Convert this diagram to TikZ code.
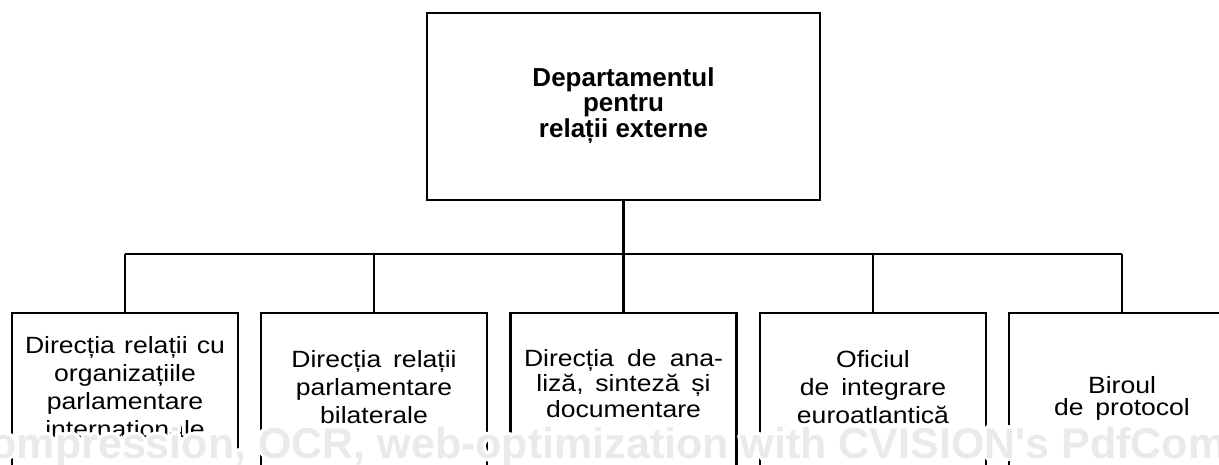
\documentclass[tikz,border=0pt]{standalone}
\usepackage{fontspec}
\setmainfont{Liberation Sans}
\newfontfamily\boxfont[FakeStretch=1.13,WordSpace=1.6]{Liberation Sans}
\newfontfamily\wmfont{Liberation Sans}
\definecolor{wmgray}{HTML}{EAEAEA}
\begin{document}
\begin{tikzpicture}[x=1pt,y=-1pt,
  unitbox/.style={draw, line width=2.2pt, minimum width=226pt, minimum height=190pt, anchor=north, inner sep=0pt},
  headbox/.style={draw, line width=2.2pt, minimum width=393pt, minimum height=187pt, inner sep=0pt},
  lbl/.style={anchor=north, inner sep=0pt, align=center, font=\boxfont\fontsize{23.5}{28}\selectfont},
  headlbl/.style={anchor=north, inner sep=0pt, align=center, font=\bfseries\fontsize{26}{25.5}\selectfont},
  link/.style={line width=2.2pt},
  wm/.style={anchor=base west, inner sep=0pt, font=\wmfont\bfseries\fontsize{43}{43}\selectfont}]
\useasboundingbox (0,0) rectangle (1219,464);
\clip (0,0) rectangle (1219,464);
\fill[white] (0,0) rectangle (1219,464);

% head
\node[headbox] (top) at (623.5,106.5) {};
\node[headlbl] (toptext) at (623.5,67.4) {Departamentul\\pentru\\relații externe};

% units
\node[unitbox] (b1) at (125,312) {};
\node[unitbox] (b2) at (374,312) {};
\node[unitbox] (b3) at (623.5,312) {};
\node[unitbox] (b4) at (873,312) {};
\node[unitbox] (b5) at (1122,312) {};

\node[lbl] (t1) at (125,336) {\makebox[200pt][s]{Direcția relații cu}\\organizațiile\\parlamentare\\internaționale};
\node[lbl] (t2) at (374,350) {Direcția relații\\parlamentare\\bilaterale};
\node[lbl, font=\boxfont\fontsize{23.5}{25.5}\selectfont] (t3) at (623.5,349) {\makebox[199pt][s]{Direcția de ana-}\\liză, sinteză și\\documentare};
\node[lbl] (t4) at (873,350) {Oficiul\\de integrare\\euroatlantică};
\node[lbl, font=\boxfont\fontsize{23.5}{22}\selectfont] (t5) at (1122,376) {Biroul\\de protocol};

% connectors
\coordinate (bus) at (623.5,254);
\draw[link] (top.south) -- (b3.north);
\draw[link] (b1.north |- bus) -- (b5.north |- bus);
\draw[link] (b1.north) -- (b1.north |- bus);
\draw[link] (b2.north) -- (b2.north |- bus);
\draw[link] (b4.north) -- (b4.north |- bus);
\draw[link] (b5.north) -- (b5.north |- bus);

% watermark
\foreach \a in {0,30,...,330}{
  \node[wm, text=white] (wmh\a) at ([shift={(\a:3)}] -9.6,458) {ompression, OCR, web-optimization with CVISION's PdfCom};
}
\node[wm, text=wmgray] (wmark) at (-9.6,458) {ompression, OCR, web-optimization with CVISION's PdfCom};
\end{tikzpicture}
\end{document}
